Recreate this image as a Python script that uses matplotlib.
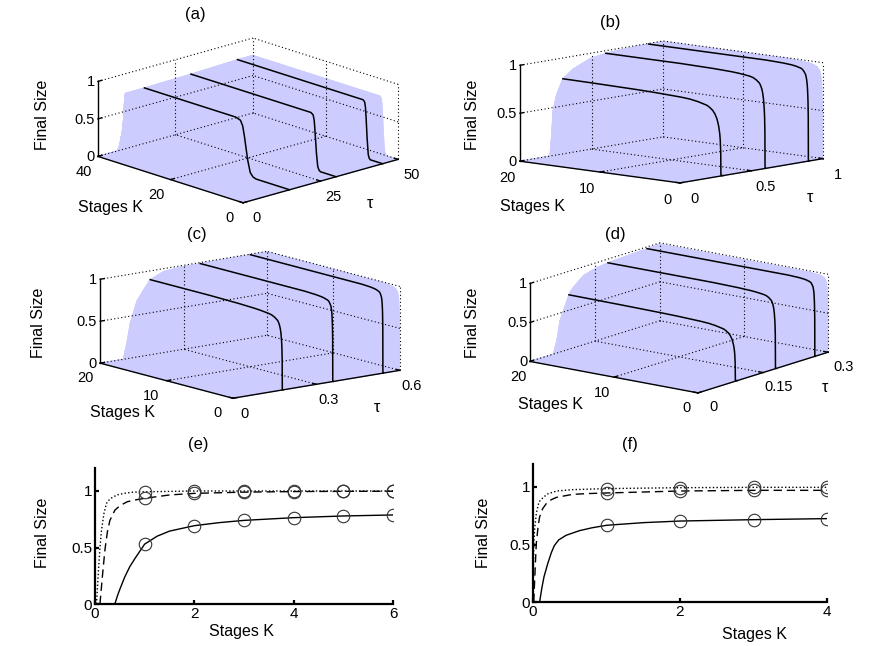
import numpy as np
import matplotlib
matplotlib.use("Agg")
import matplotlib.pyplot as plt

# ---------------- values ----------------
# Panel (a): final size at large K (plateau) vs tau, and cliff position K_c vs tau
a_tau_top = [0, 9, 15, 30, 45, 50]
a_top = [0.74, 0.74, 0.74, 0.75, 0.77, 0.77]
a_tau_kc = [0, 6.0, 6.55, 7.3, 7.8, 8.2, 8.5, 8.7, 9.5, 11, 13, 15, 20, 25, 30, 40, 50]
a_kc = [200, 60, 48, 44, 42.5, 41, 38.6, 35, 28, 20, 15, 12.3, 8.6, 6.9, 5.75, 4.8, 4.2]
a_u = [0, 0.75, 0.82, 0.88, 0.94, 1.0, 1.05, 1.1, 1.2, 100]
a_g = [0, 0, 0.02, 0.08, 0.3, 0.65, 0.88, 0.97, 1.0, 1.0]
a_curve_tau = [15, 30, 45]

# Panels (b)-(d)
b_tau_top = [0, 0.205, 0.21, 0.222, 0.231, 0.257, 0.30, 0.37, 0.49, 0.61, 0.8, 1.0]
b_top = [0, 0, 0.01, 0.23, 0.47, 0.64, 0.79, 0.87, 0.95, 0.98, 0.995, 1.0]
b_tau_kc = [0, 0.21, 0.3, 0.45, 0.6, 0.9, 1.0]
b_kc = [0.5, 0.4, 0.25, 0.15, 0.1, 0.05, 0.045]
b_curve_tau = [0.3, 0.6, 0.9]

c_tau_top = [0, 0.083, 0.096, 0.108, 0.132, 0.156, 0.18, 0.227, 0.29, 0.6]
c_top = [0, 0, 0.19, 0.42, 0.67, 0.79, 0.9, 0.97, 0.99, 1.0]
c_tau_kc = [0, 0.09, 0.18, 0.36, 0.54, 0.6]
c_kc = [0.3, 0.2, 0.1, 0.04, 0.03, 0.03]
c_curve_tau = [0.18, 0.36, 0.54]

d_tau_top = [0, 0.054, 0.062, 0.069, 0.085, 0.092, 0.10, 0.123, 0.154, 0.185, 0.3]
d_top = [0, 0, 0.16, 0.40, 0.63, 0.73, 0.78, 0.89, 0.94, 0.96, 0.99]
d_tau_kc = [0, 0.054, 0.09, 0.18, 0.27, 0.3]
d_kc = [0.35, 0.3, 0.2, 0.07, 0.03, 0.025]
d_curve_tau = [0.09, 0.18, 0.27]

# knee profile (fraction of plateau) vs K / K_c for panels (b)-(d)
k_u = [0, 1, 1.05, 1.1, 1.2, 1.3, 1.45, 1.6, 1.8, 2, 2.5, 3, 4, 5, 6.5, 8, 10,
       12, 16, 20, 30, 40, 60, 100, 1e4]
k_g = [0, 0, 0.2, 0.3, 0.39, 0.45, 0.51, 0.55, 0.59, 0.63, 0.69, 0.74, 0.8, 0.84,
       0.875, 0.9, 0.915, 0.93, 0.95, 0.96, 0.972, 0.98, 0.988, 0.995, 1.0]

# Panel (e)
e_K_solid = [0.4, 0.45, 0.5, 0.6, 0.7, 0.8, 1.0, 1.25, 1.5, 2, 2.5, 3, 4, 5, 6]
e_solid = [0, 0.07, 0.13, 0.24, 0.33, 0.40, 0.53, 0.60, 0.645, 0.693, 0.72, 0.74, 0.764, 0.779, 0.788]
e_K_dash = [0.1, 0.15, 0.2, 0.25, 0.3, 0.4, 0.5, 0.65, 0.8, 1.0, 1.5, 2, 3, 4, 5, 6]
e_dash = [0, 0.25, 0.48, 0.64, 0.74, 0.83, 0.87, 0.905, 0.92, 0.935, 0.965, 0.979, 0.99, 0.995, 0.997, 0.998]
e_K_dot = [0.03, 0.07, 0.1, 0.13, 0.18, 0.23, 0.3, 0.44, 0.6, 0.77, 1, 2, 3, 4, 5, 6]
e_dot = [0, 0.3, 0.5, 0.65, 0.8, 0.89, 0.93, 0.965, 0.98, 0.99, 0.993, 1.0, 1.0, 1.0, 1.0, 1.0]
e_K_stage = [1, 2, 3, 4, 5, 6]
e_solid_pts = [0.528, 0.693, 0.740, 0.764, 0.779, 0.788]
e_dash_pts = [0.935, 0.979, 0.99, 0.995, 0.997, 0.998]
e_dot_pts = [0.99, 1.0, 1.0, 1.0, 1.0, 1.0]

# Panel (f)
f_K_solid = [0.09, 0.12, 0.15, 0.2, 0.25, 0.29, 0.35, 0.45, 0.63, 0.8, 1.0, 1.5, 2, 3, 4]
f_solid = [0, 0.12, 0.22, 0.333, 0.43, 0.49, 0.54, 0.58, 0.62, 0.645, 0.667, 0.69, 0.704, 0.716, 0.725]
f_K_dash = [0.01, 0.03, 0.045, 0.07, 0.09, 0.13, 0.18, 0.25, 0.32, 0.54, 0.75, 1, 2, 3, 4]
f_dash = [0, 0.3, 0.51, 0.66, 0.74, 0.81, 0.855, 0.89, 0.91, 0.936, 0.943, 0.948, 0.965, 0.971, 0.971]
f_K_dot = [0, 0.01, 0.02, 0.045, 0.08, 0.14, 0.2, 0.32, 0.54, 1, 2, 3, 4]
f_dot = [0, 0.48, 0.62, 0.77, 0.87, 0.91, 0.94, 0.965, 0.977, 0.986, 0.994, 0.997, 0.997]
f_K_stage = [1, 2, 3, 4]
f_solid_pts = [0.667, 0.704, 0.716, 0.725]
f_dash_pts = [0.948, 0.965, 0.971, 0.971]
f_dot_pts = [0.986, 0.994, 0.997, 0.997]

z_ticks = [0, 0.5, 1]
z_labels = ['0', '0.5', '1']

# ---------------- figure ----------------
W, H = 872, 646
plt.rcParams['font.family'] = ['Liberation Sans', 'DejaVu Sans']
plt.rcParams['font.size'] = 11
fig = plt.figure(figsize=(W / 100, H / 100), dpi=100)
fig.patch.set_facecolor('white')

SURF = '#ccccff'
DOT = dict(color='k', lw=0.8, ls=(0, (1, 2.2)), zorder=2, clip_on=False)
SOLID = dict(color='k', lw=1.0, zorder=5, clip_on=False)
FS_TICK = 10.5
FS_LAB = 11.5

panels = [
    dict(tmax=50, Kmax=40, tticks=[0, 25, 50], tlabels=['0', '25', '50'],
         Kticks=[0, 20, 40], Klabels=['0', '20', '40'],
         elev=17.4, azim=-133.1, zr=0.37,
         targets=[(243, 203), (98, 156), (398, 160), (98, 81)],
         top=(a_tau_top, a_top), kc=(a_tau_kc, a_kc), prof=(a_u, a_g), curves=a_curve_tau,
         title=('(a)', 195, 15), ylab=(42, 115), xlab=(110, 208), taulab=(370, 203)),
    dict(tmax=1, Kmax=20, tticks=[0, 0.5, 1], tlabels=['0', '0.5', '1'],
         Kticks=[0, 10, 20], Klabels=['0', '10', '20'],
         elev=8.74, azim=-138.2, zr=0.452,
         targets=[(680, 183), (520, 161), (823, 159), (520, 65)],
         top=(b_tau_top, b_top), kc=(b_tau_kc, b_kc), prof=(k_u, k_g), curves=b_curve_tau,
         title=('(b)', 610, 23), ylab=(472, 115), xlab=(533, 207), taulab=(810, 197)),
    dict(tmax=0.6, Kmax=20, tticks=[0, 0.3, 0.6], tlabels=['0', '0.3', '0.6'],
         Kticks=[0, 10, 20], Klabels=['0', '10', '20'],
         elev=12.13, azim=-128.5, zr=0.4025,
         targets=[(233, 398), (100, 363), (400, 370), (100, 280)],
         top=(c_tau_top, c_top), kc=(c_tau_kc, c_kc), prof=(k_u, k_g), curves=c_curve_tau,
         title=('(c)', 197, 235), ylab=(38, 323), xlab=(122, 413), taulab=(377, 408)),
    dict(tmax=0.3, Kmax=20, tticks=[0, 0.15, 0.3], tlabels=['0', '0.15', '0.3'],
         Kticks=[0, 10, 20], Klabels=['0', '10', '20'],
         elev=14.0, azim=-142.27, zr=0.378,
         targets=[(698, 393), (530, 361), (828, 353), (530, 283)],
         top=(d_tau_top, d_top), kc=(d_tau_kc, d_kc), prof=(k_u, k_g), curves=d_curve_tau,
         title=('(d)', 615, 235), ylab=(472, 323), xlab=(550, 405), taulab=(825, 387)),
]


def project(ax, pts):
    """3D data points -> the 3D axes' own 2D projected coordinates."""
    M = ax.get_proj()
    P = np.column_stack([np.asarray(pts, float), np.ones(len(pts))])
    v = P @ M.T
    return v[:, :2] / v[:, 3:4]


def fit(ax, p):
    tmax, Kmax = p['tmax'], p['Kmax']
    pts = [(0, 0, 0), (0, Kmax, 0), (tmax, 0, 0), (0, Kmax, 1)]
    q = project(ax, pts)
    d = ax.transData.transform(q)
    t = np.array([(x, H - y) for x, y in p['targets']], float)
    qm, tm, dm = q.mean(0), t.mean(0), d.mean(0)
    dq = q - qm
    k_new = ((t - tm) * dq).sum() / (dq * dq).sum()
    k_cur = ((d - dm) * dq).sum() / (dq * dq).sum()
    bb = ax.get_position()
    c_cur = np.array([(bb.x0 + bb.x1) / 2 * W, (bb.y0 + bb.y1) / 2 * H])
    q_c = qm + (c_cur - dm) / k_cur
    c_new = tm + k_new * (q_c - qm)
    side = bb.width * W * k_new / k_cur
    ax.set_position([(c_new[0] - side / 2) / W, (c_new[1] - side / 2) / H, side / W, side / H])


axes3d = []
for p in panels:
    ax = fig.add_axes([0.1, 0.1, 0.4, 0.4], projection='3d', proj_type='ortho',
                      computed_zorder=False)
    ax.view_init(elev=p['elev'], azim=p['azim'])
    ax.set_box_aspect((1, 1, p['zr']), zoom=0.5)
    ax.set_xlim(0, p['tmax'])
    ax.set_ylim(0, p['Kmax'])
    ax.set_zlim(0, 1)
    ax.set_xticks([])
    ax.set_yticks([])
    ax.set_zticks([])
    ax.set_axis_off()
    ax.patch.set_visible(False)
    ax.set_facecolor('none')
    axes3d.append(ax)

fig.canvas.draw()
for ax, p in zip(axes3d, panels):
    fit(ax, p)
fig.canvas.draw()
for ax, p in zip(axes3d, panels):
    fit(ax, p)


def ftext(x, y, s, **kw):
    fig.text(x / W, 1 - y / H, s, ha='center', va='center', **kw)


def text3(ax, x, y, z, s, **kw):
    q = project(ax, [(x, y, z)])[0]
    ax.text2D(q[0], q[1], s, transform=ax.transData, fontsize=FS_TICK,
              zorder=6, clip_on=False, **kw)


for ax, p in zip(axes3d, panels):
    tmax, Kmax = p['tmax'], p['Kmax']
    tau_top, top = p['top']
    tau_kc, kcv = p['kc']
    gu, gv = p['prof']

    T = np.unique(np.concatenate([np.linspace(0, tmax, 161), tau_top, tau_kc, p['curves']]))
    kc = np.interp(T, tau_kc, kcv)
    Kg = np.clip(kc[:, None] * np.asarray(gu, float)[None, :], 0, Kmax)
    Kg = np.concatenate([Kg, np.full((len(T), 1), float(Kmax))], axis=1)
    Tg = np.repeat(T[:, None], Kg.shape[1], axis=1)
    Z = np.interp(T, tau_top, top)[:, None] * np.interp(Kg / kc[:, None], gu, gv)
    surf = ax.plot_surface(Tg, Kg, Z, color=SURF, shade=False, rstride=1, cstride=1,
                           linewidth=0.6, edgecolor=SURF, antialiased=True, zorder=1)
    surf.set_clip_on(False)

    # grid lines on back walls and floor
    tm_, Km_ = p['tticks'][1], p['Kticks'][1]
    for z in z_ticks:
        ax.plot([0, tmax], [Kmax, Kmax], [z, z], **DOT)
        ax.plot([tmax, tmax], [0, Kmax], [z, z], **DOT)
    for tt in (tm_, tmax):
        ax.plot([tt, tt], [Kmax, Kmax], [0, 1], **DOT)
    for kk in (0, Km_):
        ax.plot([tmax, tmax], [kk, kk], [0, 1], **DOT)
    ax.plot([tm_, tm_], [0, Kmax], [0, 0], **DOT)
    ax.plot([0, tmax], [Km_, Km_], [0, 0], **DOT)

    # curves at fixed tau
    for tc in p['curves']:
        kcc = np.interp(tc, tau_kc, kcv)
        Kl = np.unique(np.clip(np.concatenate([kcc * np.asarray(gu, float),
                                               np.linspace(0, Kmax, 300)]), 0, Kmax))
        Fl = np.interp(tc, tau_top, top) * np.interp(Kl / kcc, gu, gv)
        ax.plot(np.full_like(Kl, tc), Kl, Fl, color='k', lw=1.1, zorder=4, clip_on=False)

    # solid axes
    ax.plot([0, tmax], [0, 0], [0, 0], **SOLID)
    ax.plot([0, 0], [0, Kmax], [0, 0], **SOLID)
    ax.plot([0, 0], [Kmax, Kmax], [0, 1], **SOLID)
    for kk in p['Kticks']:
        ax.plot([0, 0.025 * tmax], [kk, kk], [0, 0], **SOLID)
    for tt in p['tticks']:
        ax.plot([tt, tt], [0, 0.025 * Kmax], [0, 0], **SOLID)
    for z in z_ticks:
        ax.plot([0, 0.025 * tmax], [Kmax, Kmax], [z, z], **SOLID)

    # tick labels (placed at projected 3D positions)
    for kk, lab in zip(p['Kticks'], p['Klabels']):
        text3(ax, -0.09 * tmax, kk, -0.15, lab, ha='center', va='center')
    for tt, lab in zip(p['tticks'], p['tlabels']):
        text3(ax, tt, -0.09 * Kmax, -0.15, lab, ha='center', va='center')
    for z, lab in zip(z_ticks, z_labels):
        text3(ax, -0.02 * tmax, Kmax, z, lab, ha='right', va='center')

    s, tx, ty = p['title']
    ftext(tx, ty, s, fontsize=12)
    ftext(*p['ylab'], 'Final Size', fontsize=FS_LAB, rotation=90)
    ftext(*p['xlab'], 'Stages K', fontsize=FS_LAB)
    ftext(*p['taulab'], 'τ', fontsize=FS_LAB)


def panel2d(rect_px, xmax, xticks, data, title, ylab_xy, xlab_xy):
    l, r, b, t = rect_px
    ax = fig.add_axes([l / W, 1 - b / H, (r - l) / W, (b - t) / H])
    (Ks, s), (Kd, dsh), (Kt, dt), (Kst, sp, dp, tp) = data
    ax.plot(Kt, dt, color='k', lw=1.0, ls=(0, (1, 1.6)))
    ax.plot(Kd, dsh, color='k', lw=1.0, ls=(0, (6, 3.5)))
    ax.plot(Ks, s, color='k', lw=1.0)
    mk = dict(ls='none', marker='o', ms=9, mfc='none', mec='#333333', mew=0.8)
    ax.plot(Kst, tp, **mk)
    ax.plot(Kst, dp, **mk)
    ax.plot(Kst, sp, **mk)
    ax.set_xlim(0, xmax)
    ax.set_ylim(0, 1.2)
    ax.set_xticks(xticks)
    ax.set_yticks([0, 0.5, 1])
    ax.set_yticklabels(['0', '0.5', '1'])
    ax.set_xticklabels([str(v) for v in xticks])
    for sp_ in ('top', 'right'):
        ax.spines[sp_].set_visible(False)
    for sp_ in ('left', 'bottom'):
        ax.spines[sp_].set_linewidth(1.6)
    ax.tick_params(direction='in', length=3, width=1.6, labelsize=11, pad=2)
    ax.patch.set_alpha(0)
    ax.set_ylabel('Final Size', fontsize=FS_LAB, ha='center', va='center')
    ax.yaxis.set_label_coords(*ylab_xy)
    ax.set_xlabel('Stages K', fontsize=FS_LAB, ha='center', va='center')
    ax.xaxis.set_label_coords(*xlab_xy)
    s_, x_, y_ = title
    ftext(x_, y_, s_, fontsize=12)
    return ax


panel2d((95, 393, 604, 604 - 1.2 * 113), 6, [0, 2, 4, 6],
        [(e_K_solid, e_solid), (e_K_dash, e_dash), (e_K_dot, e_dot),
         (e_K_stage, e_solid_pts, e_dash_pts, e_dot_pts)],
        ('(e)', 198, 445), (-0.1745, 0.522), (0.493, -0.206))
panel2d((533, 827, 602, 602 - 1.2 * 115), 4, [0, 2, 4],
        [(f_K_solid, f_solid), (f_K_dash, f_dash), (f_K_dot, f_dot),
         (f_K_stage, f_solid_pts, f_dash_pts, f_dot_pts)],
        ('(f)', 630, 445), (-0.17, 0.4986), (0.752, -0.238))

fig.savefig('out.png', dpi=100, facecolor='white')
